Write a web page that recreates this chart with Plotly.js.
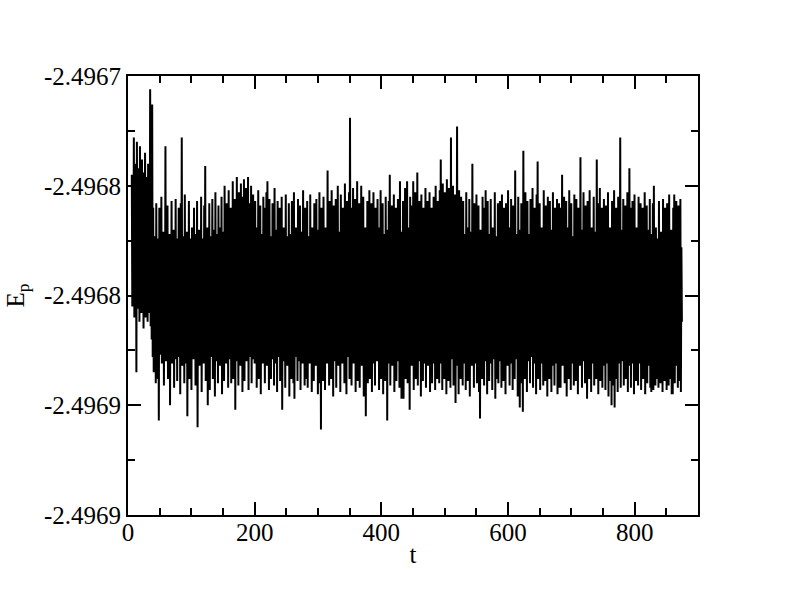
<!DOCTYPE html>
<html>
<head>
<meta charset="utf-8">
<script src="https://cdn.plot.ly/plotly-3.0.1.min.js"></script>
<style>html,body{margin:0;padding:0;background:#fff;}#chart{width:792px;height:607px;}</style>
</head>
<body>
<div id="chart"></div>
<script>
// sampling of the time axis
var t_start = 6;
var t_step = 0.805;

// E_p values, in time order (segments of 120 samples)
var ep_seg0 = [-2.496745,-2.496805,-2.496752,-2.496798,-2.496728,-2.496810,-2.496748,-2.496802,-2.496740,-2.496835,
-2.496730,-2.496806,-2.496755,-2.496796,-2.496742,-2.496812,-2.496732,-2.496800,-2.496750,-2.496808,
-2.496738,-2.496803,-2.496756,-2.496815,-2.496744,-2.496799,-2.496735,-2.496810,-2.496758,-2.496804,
-2.496746,-2.496812,-2.496740,-2.496797,-2.496752,-2.496808,-2.496706,-2.496814,-2.496748,-2.496820,
-2.496713,-2.496828,-2.496760,-2.496835,-2.496773,-2.496825,-2.496778,-2.496840,-2.496758,-2.496821,
-2.496774,-2.496838,-2.496780,-2.496857,-2.496760,-2.496827,-2.496776,-2.496819,-2.496755,-2.496831,
-2.496779,-2.496824,-2.496771,-2.496841,-2.496782,-2.496822,-2.496732,-2.496830,-2.496775,-2.496817,
-2.496759,-2.496838,-2.496778,-2.496826,-2.496772,-2.496850,-2.496781,-2.496821,-2.496757,-2.496831,
-2.496776,-2.496824,-2.496770,-2.496842,-2.496779,-2.496820,-2.496756,-2.496829,-2.496774,-2.496839,
-2.496780,-2.496822,-2.496760,-2.496828,-2.496777,-2.496845,-2.496758,-2.496823,-2.496728,-2.496832,
-2.496773,-2.496819,-2.496779,-2.496840,-2.496754,-2.496826,-2.496775,-2.496831,-2.496771,-2.496855,
-2.496778,-2.496824,-2.496757,-2.496838,-2.496774,-2.496821,-2.496781,-2.496843,-2.496769,-2.496827];
var ep_seg1 = [-2.496776,-2.496829,-2.496760,-2.496822,-2.496780,-2.496841,-2.496772,-2.496825,-2.496757,-2.496860,
-2.496778,-2.496820,-2.496770,-2.496832,-2.496777,-2.496827,-2.496755,-2.496844,-2.496774,-2.496823,
-2.496781,-2.496831,-2.496759,-2.496821,-2.496741,-2.496839,-2.496775,-2.496826,-2.496769,-2.496850,
-2.496778,-2.496824,-2.496758,-2.496843,-2.496773,-2.496828,-2.496779,-2.496822,-2.496756,-2.496838,
-2.496776,-2.496825,-2.496770,-2.496846,-2.496753,-2.496821,-2.496778,-2.496830,-2.496772,-2.496840,
-2.496759,-2.496823,-2.496780,-2.496832,-2.496769,-2.496827,-2.496755,-2.496845,-2.496775,-2.496821,
-2.496771,-2.496839,-2.496750,-2.496826,-2.496777,-2.496831,-2.496758,-2.496824,-2.496774,-2.496842,
-2.496752,-2.496829,-2.496779,-2.496822,-2.496760,-2.496840,-2.496773,-2.496828,-2.496748,-2.496838,
-2.496775,-2.496825,-2.496756,-2.496852,-2.496770,-2.496830,-2.496746,-2.496823,-2.496778,-2.496841,
-2.496753,-2.496827,-2.496772,-2.496832,-2.496749,-2.496824,-2.496776,-2.496844,-2.496755,-2.496821,
-2.496747,-2.496839,-2.496771,-2.496826,-2.496751,-2.496830,-2.496777,-2.496823,-2.496746,-2.496843,
-2.496758,-2.496828,-2.496773,-2.496822,-2.496750,-2.496840,-2.496779,-2.496829,-2.496754,-2.496824];
var ep_seg2 = [-2.496774,-2.496831,-2.496757,-2.496825,-2.496778,-2.496842,-2.496769,-2.496822,-2.496752,-2.496838,
-2.496776,-2.496828,-2.496759,-2.496845,-2.496772,-2.496823,-2.496779,-2.496831,-2.496755,-2.496826,
-2.496775,-2.496840,-2.496760,-2.496821,-2.496753,-2.496832,-2.496748,-2.496827,-2.496777,-2.496843,
-2.496756,-2.496824,-2.496773,-2.496838,-2.496780,-2.496829,-2.496758,-2.496821,-2.496774,-2.496841,
-2.496751,-2.496826,-2.496778,-2.496831,-2.496770,-2.496844,-2.496757,-2.496823,-2.496776,-2.496828,
-2.496760,-2.496839,-2.496781,-2.496825,-2.496755,-2.496852,-2.496774,-2.496830,-2.496769,-2.496822,
-2.496777,-2.496842,-2.496754,-2.496827,-2.496773,-2.496832,-2.496778,-2.496824,-2.496758,-2.496846,
-2.496772,-2.496826,-2.496780,-2.496838,-2.496757,-2.496821,-2.496775,-2.496840,-2.496753,-2.496847,
-2.496776,-2.496828,-2.496769,-2.496823,-2.496779,-2.496839,-2.496756,-2.496830,-2.496774,-2.496825,
-2.496759,-2.496843,-2.496778,-2.496822,-2.496771,-2.496831,-2.496752,-2.496827,-2.496775,-2.496841,
-2.496760,-2.496824,-2.496781,-2.496838,-2.496757,-2.496842,-2.496773,-2.496826,-2.496777,-2.496831,
-2.496754,-2.496822,-2.496774,-2.496844,-2.496769,-2.496828,-2.496778,-2.496839,-2.496758,-2.496825];
var ep_seg3 = [-2.496775,-2.496832,-2.496756,-2.496826,-2.496777,-2.496845,-2.496770,-2.496823,-2.496753,-2.496840,
-2.496779,-2.496861,-2.496760,-2.496829,-2.496774,-2.496839,-2.496755,-2.496824,-2.496776,-2.496843,
-2.496769,-2.496827,-2.496778,-2.496831,-2.496743,-2.496822,-2.496772,-2.496841,-2.496757,-2.496828,
-2.496777,-2.496838,-2.496752,-2.496825,-2.496773,-2.496846,-2.496759,-2.496821,-2.496779,-2.496830,
-2.496756,-2.496842,-2.496775,-2.496824,-2.496750,-2.496832,-2.496771,-2.496827,-2.496776,-2.496844,
-2.496754,-2.496823,-2.496780,-2.496831,-2.496760,-2.496826,-2.496774,-2.496840,-2.496749,-2.496822,
-2.496772,-2.496845,-2.496757,-2.496828,-2.496778,-2.496824,-2.496753,-2.496838,-2.496719,-2.496827,
-2.496775,-2.496841,-2.496760,-2.496822,-2.496751,-2.496831,-2.496777,-2.496825,-2.496756,-2.496844,
-2.496773,-2.496823,-2.496748,-2.496839,-2.496779,-2.496829,-2.496758,-2.496842,-2.496771,-2.496821,
-2.496750,-2.496832,-2.496776,-2.496826,-2.496755,-2.496846,-2.496774,-2.496824,-2.496769,-2.496855,
-2.496778,-2.496828,-2.496757,-2.496840,-2.496772,-2.496822,-2.496752,-2.496838,-2.496777,-2.496827,
-2.496758,-2.496844,-2.496774,-2.496824,-2.496753,-2.496831,-2.496779,-2.496841,-2.496760,-2.496825];
var ep_seg4 = [-2.496774,-2.496830,-2.496756,-2.496823,-2.496777,-2.496843,-2.496769,-2.496827,-2.496752,-2.496838,
-2.496775,-2.496825,-2.496758,-2.496845,-2.496772,-2.496822,-2.496779,-2.496839,-2.496755,-2.496828,
-2.496776,-2.496857,-2.496770,-2.496831,-2.496757,-2.496824,-2.496745,-2.496841,-2.496774,-2.496826,
-2.496759,-2.496832,-2.496778,-2.496821,-2.496754,-2.496844,-2.496773,-2.496827,-2.496760,-2.496839,
-2.496780,-2.496823,-2.496756,-2.496830,-2.496775,-2.496842,-2.496748,-2.496825,-2.496771,-2.496847,
-2.496777,-2.496828,-2.496757,-2.496847,-2.496772,-2.496822,-2.496751,-2.496838,-2.496778,-2.496826,
-2.496748,-2.496840,-2.496769,-2.496824,-2.496775,-2.496852,-2.496755,-2.496829,-2.496779,-2.496832,
-2.496759,-2.496821,-2.496748,-2.496843,-2.496774,-2.496827,-2.496753,-2.496838,-2.496776,-2.496825,
-2.496744,-2.496841,-2.496770,-2.496830,-2.496757,-2.496823,-2.496778,-2.496846,-2.496754,-2.496828,
-2.496773,-2.496839,-2.496760,-2.496822,-2.496780,-2.496831,-2.496751,-2.496842,-2.496772,-2.496826,
-2.496757,-2.496832,-2.496777,-2.496824,-2.496753,-2.496844,-2.496774,-2.496828,-2.496760,-2.496840,
-2.496779,-2.496823,-2.496755,-2.496831,-2.496771,-2.496843,-2.496750,-2.496825,-2.496776,-2.496838];
var ep_seg5 = [-2.496757,-2.496827,-2.496774,-2.496840,-2.496752,-2.496824,-2.496738,-2.496831,-2.496760,-2.496843,
-2.496749,-2.496826,-2.496772,-2.496838,-2.496753,-2.496822,-2.496758,-2.496845,-2.496747,-2.496828,
-2.496770,-2.496839,-2.496751,-2.496825,-2.496756,-2.496842,-2.496728,-2.496829,-2.496769,-2.496823,
-2.496750,-2.496841,-2.496773,-2.496831,-2.496754,-2.496849,-2.496759,-2.496826,-2.496723,-2.496832,
-2.496771,-2.496845,-2.496752,-2.496824,-2.496774,-2.496838,-2.496755,-2.496828,-2.496776,-2.496841,
-2.496757,-2.496822,-2.496772,-2.496831,-2.496778,-2.496843,-2.496753,-2.496825,-2.496775,-2.496839,
-2.496769,-2.496827,-2.496756,-2.496846,-2.496777,-2.496823,-2.496771,-2.496832,-2.496740,-2.496829,
-2.496774,-2.496842,-2.496758,-2.496824,-2.496779,-2.496831,-2.496754,-2.496840,-2.496773,-2.496826,
-2.496759,-2.496844,-2.496776,-2.496856,-2.496770,-2.496828,-2.496778,-2.496838,-2.496755,-2.496822,
-2.496775,-2.496841,-2.496760,-2.496830,-2.496752,-2.496825,-2.496777,-2.496845,-2.496757,-2.496827,
-2.496772,-2.496839,-2.496779,-2.496823,-2.496756,-2.496831,-2.496774,-2.496843,-2.496769,-2.496824,
-2.496776,-2.496829,-2.496753,-2.496847,-2.496773,-2.496838,-2.496780,-2.496826,-2.496758,-2.496840];
var ep_seg6 = [-2.496771,-2.496830,-2.496757,-2.496823,-2.496778,-2.496842,-2.496754,-2.496828,-2.496775,-2.496839,
-2.496760,-2.496825,-2.496780,-2.496845,-2.496758,-2.496822,-2.496773,-2.496832,-2.496752,-2.496827,
-2.496776,-2.496841,-2.496769,-2.496824,-2.496756,-2.496831,-2.496779,-2.496843,-2.496759,-2.496826,
-2.496774,-2.496838,-2.496743,-2.496829,-2.496772,-2.496822,-2.496777,-2.496846,-2.496755,-2.496827,
-2.496770,-2.496851,-2.496778,-2.496831,-2.496758,-2.496840,-2.496774,-2.496853,-2.496734,-2.496824,
-2.496760,-2.496838,-2.496753,-2.496826,-2.496775,-2.496844,-2.496757,-2.496823,-2.496779,-2.496830,
-2.496772,-2.496840,-2.496756,-2.496828,-2.496777,-2.496822,-2.496751,-2.496842,-2.496773,-2.496831,
-2.496760,-2.496824,-2.496780,-2.496845,-2.496754,-2.496829,-2.496739,-2.496838,-2.496776,-2.496825,
-2.496758,-2.496843,-2.496774,-2.496823,-2.496769,-2.496831,-2.496778,-2.496841,-2.496752,-2.496827,
-2.496775,-2.496839,-2.496759,-2.496822,-2.496772,-2.496846,-2.496755,-2.496828,-2.496779,-2.496838,
-2.496757,-2.496825,-2.496776,-2.496844,-2.496770,-2.496824,-2.496753,-2.496832,-2.496774,-2.496841,
-2.496760,-2.496827,-2.496778,-2.496831,-2.496756,-2.496845,-2.496773,-2.496823,-2.496758,-2.496842];
var ep_seg7 = [-2.496776,-2.496842,-2.496760,-2.496826,-2.496745,-2.496832,-2.496772,-2.496824,-2.496755,-2.496840,
-2.496778,-2.496828,-2.496757,-2.496846,-2.496774,-2.496823,-2.496769,-2.496838,-2.496752,-2.496827,
-2.496777,-2.496843,-2.496758,-2.496822,-2.496773,-2.496831,-2.496779,-2.496841,-2.496754,-2.496825,
-2.496771,-2.496839,-2.496756,-2.496829,-2.496776,-2.496845,-2.496760,-2.496823,-2.496774,-2.496832,
-2.496737,-2.496826,-2.496770,-2.496842,-2.496778,-2.496824,-2.496753,-2.496830,-2.496775,-2.496840,
-2.496759,-2.496822,-2.496772,-2.496847,-2.496757,-2.496828,-2.496779,-2.496838,-2.496752,-2.496825,
-2.496774,-2.496844,-2.496769,-2.496824,-2.496777,-2.496831,-2.496755,-2.496841,-2.496771,-2.496827,
-2.496778,-2.496838,-2.496738,-2.496822,-2.496758,-2.496845,-2.496773,-2.496826,-2.496751,-2.496839,
-2.496775,-2.496829,-2.496760,-2.496842,-2.496780,-2.496823,-2.496756,-2.496832,-2.496772,-2.496843,
-2.496759,-2.496825,-2.496776,-2.496831,-2.496753,-2.496846,-2.496774,-2.496824,-2.496769,-2.496839,
-2.496778,-2.496850,-2.496757,-2.496828,-2.496772,-2.496841,-2.496752,-2.496851,-2.496776,-2.496823,
-2.496760,-2.496838,-2.496774,-2.496844,-2.496755,-2.496826,-2.496777,-2.496831,-2.496728,-2.496842];
var ep_seg8 = [-2.496770,-2.496830,-2.496778,-2.496824,-2.496756,-2.496841,-2.496773,-2.496828,-2.496759,-2.496838,
-2.496776,-2.496822,-2.496753,-2.496844,-2.496772,-2.496826,-2.496742,-2.496832,-2.496760,-2.496842,
-2.496779,-2.496825,-2.496757,-2.496831,-2.496774,-2.496845,-2.496754,-2.496823,-2.496777,-2.496839,
-2.496769,-2.496828,-2.496775,-2.496841,-2.496755,-2.496824,-2.496780,-2.496831,-2.496758,-2.496843,
-2.496773,-2.496826,-2.496760,-2.496838,-2.496778,-2.496822,-2.496753,-2.496845,-2.496774,-2.496829,
-2.496759,-2.496840,-2.496776,-2.496827,-2.496770,-2.496832,-2.496756,-2.496842,-2.496772,-2.496844,
-2.496779,-2.496839,-2.496758,-2.496843,-2.496750,-2.496831,-2.496775,-2.496841,-2.496769,-2.496825,
-2.496788,-2.496838,-2.496774,-2.496842,-2.496757,-2.496830,-2.496778,-2.496840,-2.496771,-2.496826,
-2.496776,-2.496844,-2.496756,-2.496828,-2.496773,-2.496839,-2.496760,-2.496823,-2.496779,-2.496843,
-2.496758,-2.496831,-2.496774,-2.496841,-2.496754,-2.496827,-2.496777,-2.496838,-2.496770,-2.496845,
-2.496775,-2.496845,-2.496760,-2.496829,-2.496754,-2.496840,-2.496779,-2.496824,-2.496757,-2.496832,
-2.496773,-2.496842,-2.496759,-2.496828,-2.496776,-2.496839,-2.496756,-2.496844,-2.496778,-2.496812];

// tick labels as printed on the chart
var x_tickvals = [0, 200, 400, 600, 800];
var x_ticktext = ["0", "200", "400", "600", "800"];
var y_tickvals = [-2.4967, -2.49675, -2.4968, -2.49685, -2.4969];
var y_ticktext = ["-2.4967", "-2.4968", "-2.4968", "-2.4969", "-2.4969"];

var ep = [].concat(ep_seg0, ep_seg1, ep_seg2, ep_seg3, ep_seg4, ep_seg5, ep_seg6, ep_seg7, ep_seg8);

var font = {family: "'Liberation Serif', 'Times New Roman', Times, serif", size: 25, color: "#000"};

var trace = {
  type: "scatter",
  mode: "lines",
  x0: t_start,
  dx: t_step,
  y: ep,
  line: {color: "#000", width: 2},
  hoverinfo: "skip"
};

var axisCommon = {
  showgrid: false,
  zeroline: false,
  showline: true,
  linecolor: "#000",
  linewidth: 2,
  mirror: "ticks",
  ticks: "inside",
  ticklen: 13,
  tickwidth: 2,
  tickcolor: "#000",
  tickfont: font
};

var layout = {
  width: 792,
  height: 607,
  paper_bgcolor: "#fff",
  plot_bgcolor: "#fff",
  showlegend: false,
  margin: {l: 128, r: 94, t: 76, b: 92, pad: 0},
  font: font,
  xaxis: Object.assign({}, axisCommon, {
    range: [0, 900],
    tickmode: "array",
    tickvals: x_tickvals,
    ticktext: x_ticktext,
    ticklabelstandoff: -6,
    minor: {tick0: 0, dtick: 50, ticks: "inside", ticklen: 7, tickwidth: 2, tickcolor: "#000", showgrid: false},
    title: {text: "t", font: font, standoff: 0}
  }),
  yaxis: Object.assign({}, axisCommon, {
    range: [-2.4969, -2.4967],
    tickmode: "array",
    tickvals: y_tickvals,
    ticktext: y_ticktext,
    minor: {tick0: -2.4969, dtick: 0.000025, ticks: "inside", ticklen: 7, tickwidth: 2, tickcolor: "#000", showgrid: false},
    title: {text: "E<sub>p</sub>", font: font, standoff: 12}
  })
};

Plotly.newPlot("chart", [trace], layout, {displayModeBar: false, staticPlot: true});
</script>
</body>
</html>
